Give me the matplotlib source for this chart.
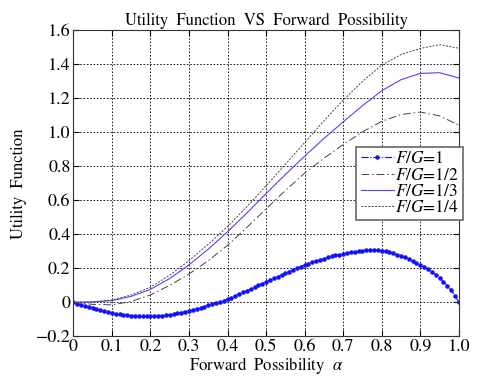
import matplotlib
matplotlib.use('Agg')
import matplotlib.pyplot as plt
from matplotlib.ticker import FuncFormatter

# estilo parecido com o MATLAB (fonte serifada, grade pontilhada)
plt.rcParams['font.family'] = ['STIXGeneral', 'DejaVu Serif']
plt.rcParams['mathtext.fontset'] = 'stix'

# possibilidade de avanço (eixo x)
alpha_fino = [i / 100 for i in range(101)]
alpha = [i / 20 for i in range(21)]

# F/G = 1 (com marcadores, passo 0.01)
fg_1 = [
    0.000, -0.008, -0.016, -0.023, -0.030, -0.036, -0.042, -0.048, -0.053, -0.058,
    -0.062, -0.066, -0.070, -0.073, -0.076, -0.078, -0.080, -0.081, -0.082, -0.082,
    -0.082, -0.081, -0.080, -0.078, -0.076, -0.073, -0.069, -0.065, -0.060, -0.055,
    -0.049, -0.043, -0.037, -0.031, -0.025, -0.018, -0.011, -0.004, 0.003, 0.010,
    0.018, 0.028, 0.038, 0.048, 0.058, 0.068, 0.078, 0.089, 0.099, 0.110,
    0.121, 0.131, 0.141, 0.151, 0.161, 0.171, 0.181, 0.191, 0.201, 0.210,
    0.219, 0.227, 0.235, 0.243, 0.250, 0.257, 0.264, 0.270, 0.276, 0.281,
    0.286, 0.290, 0.294, 0.298, 0.301, 0.304, 0.306, 0.307, 0.308, 0.307,
    0.303, 0.299, 0.294, 0.288, 0.281, 0.273, 0.264, 0.254, 0.244, 0.233,
    0.221, 0.208, 0.194, 0.179, 0.162, 0.143, 0.122, 0.098, 0.071, 0.039,
    0.000,
]

# demais curvas (passo 0.05)
fg_1_2 = [0.000, -0.012, -0.015, 0.005, 0.043, 0.100, 0.166, 0.245, 0.335, 0.440,
          0.550, 0.658, 0.760, 0.848, 0.928, 1.003, 1.065, 1.105, 1.120, 1.097,
          1.043]
fg_1_3 = [0.000, 0.002, 0.010, 0.035, 0.076, 0.140, 0.220, 0.313, 0.415, 0.525,
          0.640, 0.752, 0.860, 0.964, 1.062, 1.157, 1.245, 1.310, 1.347, 1.351,
          1.320]
fg_1_4 = [0.000, 0.003, 0.013, 0.043, 0.088, 0.160, 0.245, 0.342, 0.445, 0.562,
          0.685, 0.812, 0.940, 1.068, 1.190, 1.300, 1.396, 1.458, 1.494, 1.516,
          1.495]

xticks = [0, 0.1, 0.2, 0.3, 0.4, 0.5, 0.6, 0.7, 0.8, 0.9, 1.0]
yticks = [-0.2, 0, 0.2, 0.4, 0.6, 0.8, 1.0, 1.2, 1.4, 1.6]

fig = plt.figure(figsize=(4.79, 3.80), dpi=100)
ax = fig.add_axes([0.153, 0.115, 0.805, 0.805])

ax.plot(alpha_fino, fg_1, color='#1010ff', linestyle='-.', linewidth=0.8,
        marker='.', markersize=4.5, label=r'$F/G$=1')
ax.plot(alpha, fg_1_2, color='#444444', linestyle=(0, (8, 3, 1.5, 3)), linewidth=0.7,
        label=r'$F/G$=1/2')
ax.plot(alpha, fg_1_3, color='#4848ff', linestyle='-', linewidth=0.8,
        label=r'$F/G$=1/3')
ax.plot(alpha, fg_1_4, color='#444444', linestyle=(0, (2, 1.5)), linewidth=0.7,
        label=r'$F/G$=1/4')

ax.set_xlim(0, 1)
ax.set_ylim(-0.2, 1.6)
ax.set_xticks(xticks)
ax.set_yticks(yticks)
ax.xaxis.set_major_formatter(FuncFormatter(lambda v, p: '0' if v == 0 else ('1.0' if v == 1 else f'{v:.1f}')))
ax.yaxis.set_major_formatter(FuncFormatter(lambda v, p: '0' if abs(v) < 1e-9 else f'{v:.1f}'.replace('-', '\u2212')))
ax.tick_params(direction='in', top=True, right=True, labelsize=13, length=4, pad=2)
ax.grid(True, color='black', linestyle=(0, (2, 2)), linewidth=0.6)

ax.set_title('Utility  Function  VS  Forward  Possibility', fontsize=12, pad=4)
ax.set_xlabel(r'Forward  Possibility  $\alpha$', fontsize=12, labelpad=0)
ax.set_ylabel('Utility  Function', fontsize=12, labelpad=6)

leg = ax.legend(loc='upper left', bbox_to_anchor=(0.734, 0.619), fontsize=12.5,
                handlelength=1.9, handletextpad=0.1, labelspacing=0.0,
                borderpad=0.25, borderaxespad=0, numpoints=1,
                fancybox=False, framealpha=1)
leg.get_frame().set_edgecolor('#666666')
leg.get_frame().set_linewidth(1.2)

for s in ax.spines.values():
    s.set_color('#333333')

plt.savefig('out.png', dpi=100)
